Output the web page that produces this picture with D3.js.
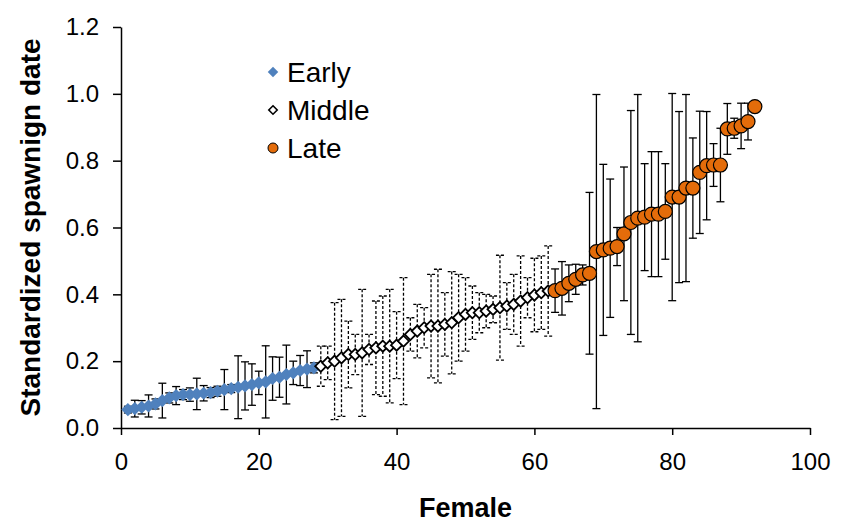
<!DOCTYPE html>
<html>
<head>
<meta charset="utf-8">
<script src="https://cdn.jsdelivr.net/npm/d3@7"></script>
<style>
body { margin: 0; background: #fff; }
text { font-family: "Liberation Sans", Arial, sans-serif; }
</style>
</head>
<body>
<script>
var w = 856, h = 526;
var margin = {top: 27, right: 46, bottom: 98, left: 121};

// Early: females 1-28
var earlyMean = [0.055,0.058,0.062,0.066,0.072,0.082,0.09,0.097,0.10,0.10,0.102,0.104,0.106,0.11,
	0.115,0.118,0.122,0.126,0.13,0.135,0.138,0.148,0.152,0.16,0.165,0.172,0.176,0.18];
var earlyErr = [0.01,0.025,0.02,0.033,0.015,0.052,0.015,0.027,0.015,0.02,0.047,0.023,0.015,0.015,
	0.06,0.012,0.094,0.072,0.062,0.035,0.108,0.065,0.06,0.088,0.035,0.045,0.055,0.015];

// Middle: females 29-62
var middleMean = [0.185,0.195,0.20,0.21,0.22,0.22,0.225,0.235,0.24,0.245,0.245,0.248,0.26,0.28,
	0.29,0.30,0.305,0.305,0.31,0.315,0.33,0.34,0.345,0.345,0.35,0.355,0.36,0.365,0.37,0.38,
	0.39,0.398,0.405,0.41];
var middleErr = [0.06,0.05,0.175,0.175,0.10,0.06,0.19,0.045,0.14,0.15,0.17,0.10,0.19,0.05,
	0.08,0.06,0.155,0.17,0.095,0.153,0.13,0.11,0.08,0.06,0.05,0.04,0.157,0.07,0.09,0.135,
	0.06,0.11,0.11,0.135];

// Late: females 63-92
var lateMean = [0.411,0.418,0.433,0.445,0.458,0.463,0.528,0.533,0.538,0.543,0.581,0.615,0.628,
	0.631,0.64,0.64,0.648,0.691,0.691,0.718,0.718,0.765,0.785,0.787,0.787,0.895,0.897,0.904,
	0.917,0.962];
var lateErr = [0.065,0.08,0.055,0.045,0.03,0.242,0.47,0.256,0.207,0.057,0.2,0.335,0.37,0.16,
	0.187,0.187,0.143,0.31,0.256,0.28,0.15,0.183,0.162,0.064,0.11,0.076,0.03,0.068,0.055,0.01];

var xTicks = [0,20,40,60,80,100];
var yTicks = [0,0.2,0.4,0.6,0.8,1.0,1.2];

function toPoints(means, errs, start) {
	return means.map(function(m, i) { return {x: start + i, y: m, e: errs[i]}; });
}
var early = toPoints(earlyMean, earlyErr, 1);
var middle = toPoints(middleMean, middleErr, 29);
var late = toPoints(lateMean, lateErr, 63);

var svg = d3.select("body").append("svg")
	.attr("width", w)
	.attr("height", h);

var x = d3.scaleLinear().domain([0,100]).range([margin.left, w - margin.right]);
var y = d3.scaleLinear().domain([0,1.2]).range([h - margin.bottom, margin.top]);

// axes
var xAxis = svg.append("g")
	.attr("transform","translate(0,"+(h - margin.bottom)+")")
	.call(d3.axisBottom(x).tickValues(xTicks).tickSize(7).tickPadding(18).tickSizeOuter(0));
var yAxis = svg.append("g")
	.attr("transform","translate("+margin.left+",0)")
	.call(d3.axisLeft(y).tickValues(yTicks).tickSize(8).tickPadding(14).tickSizeOuter(0)
		.tickFormat(d3.format(".1f")));

[xAxis, yAxis].forEach(function(a) {
	a.select(".domain").attr("stroke","#000").attr("stroke-width",1.5);
	a.selectAll(".tick line").attr("stroke","#000").attr("stroke-width",1.5);
	a.selectAll(".tick text").attr("fill","#000").style("font-size","24px")
		.style("font-family","'Liberation Sans', Arial, sans-serif");
});

// error bars
function errorBars(data, dashed) {
	var g = svg.append("g")
		.attr("stroke","#000")
		.attr("stroke-width",1.3)
		.attr("fill","none");
	if (dashed) g.attr("stroke-dasharray","3,2");
	var bars = g.selectAll("g").data(data).enter().append("g");
	bars.append("line")
		.attr("x1", function(d){ return x(d.x); })
		.attr("x2", function(d){ return x(d.x); })
		.attr("y1", function(d){ return y(d.y + d.e); })
		.attr("y2", function(d){ return y(d.y - d.e); });
	bars.append("line")
		.attr("x1", function(d){ return x(d.x) - 4; })
		.attr("x2", function(d){ return x(d.x) + 4; })
		.attr("y1", function(d){ return y(d.y + d.e); })
		.attr("y2", function(d){ return y(d.y + d.e); });
	bars.append("line")
		.attr("x1", function(d){ return x(d.x) - 4; })
		.attr("x2", function(d){ return x(d.x) + 4; })
		.attr("y1", function(d){ return y(d.y - d.e); })
		.attr("y2", function(d){ return y(d.y - d.e); });
}
errorBars(early, false);
errorBars(middle, true);
errorBars(late, false);

var diamond = d3.symbol().type(d3.symbolDiamond2).size(110);
var diamondOpen = d3.symbol().type(d3.symbolDiamond2).size(80);

svg.append("g").selectAll("path")
	.data(early)
	.enter()
	.append("path")
	.attr("d", diamond)
	.attr("transform", function(d){ return "translate("+x(d.x)+","+y(d.y)+")"; })
	.style("fill","#4f81bd");

svg.append("g").selectAll("path")
	.data(middle)
	.enter()
	.append("path")
	.attr("d", diamondOpen)
	.attr("transform", function(d){ return "translate("+x(d.x)+","+y(d.y)+")"; })
	.style("fill","#fff")
	.style("stroke","#000")
	.style("stroke-width",1.8);

svg.append("g").selectAll("circle")
	.data(late)
	.enter()
	.append("circle")
	.attr("cx", function(d){ return x(d.x); })
	.attr("cy", function(d){ return y(d.y); })
	.attr("r", 7)
	.style("fill","#e46c0a")
	.style("stroke","#000")
	.style("stroke-width",1.2);

// legend
var legend = svg.append("g").attr("transform","translate(273,0)");
var legY = [72, 110, 148];
legend.append("path")
	.attr("d", d3.symbol().type(d3.symbolDiamond2).size(70))
	.attr("transform","translate(0,"+legY[0]+")")
	.style("fill","#4f81bd");
legend.append("path")
	.attr("d", d3.symbol().type(d3.symbolDiamond2).size(45))
	.attr("transform","translate(0,"+legY[1]+")")
	.style("fill","#fff").style("stroke","#000").style("stroke-width",1.6);
legend.append("circle")
	.attr("cy", legY[2]).attr("r",5)
	.style("fill","#e46c0a").style("stroke","#000").style("stroke-width",1);
["Early","Middle","Late"].forEach(function(t, i) {
	legend.append("text")
		.attr("x", 14).attr("y", legY[i])
		.attr("dy","0.36em")
		.style("font-size","28px")
		.text(t);
});

// axis titles
svg.append("text")
	.attr("x", x(50)).attr("y", 517)
	.attr("text-anchor","middle")
	.style("font-size","27px").style("font-weight","bold")
	.text("Female");
svg.append("text")
	.attr("transform","translate(40,"+y(0.6)+") rotate(-90)")
	.attr("text-anchor","middle")
	.style("font-size","28px").style("font-weight","bold")
	.text("Standardized spawnign date");
</script>
</body>
</html>
